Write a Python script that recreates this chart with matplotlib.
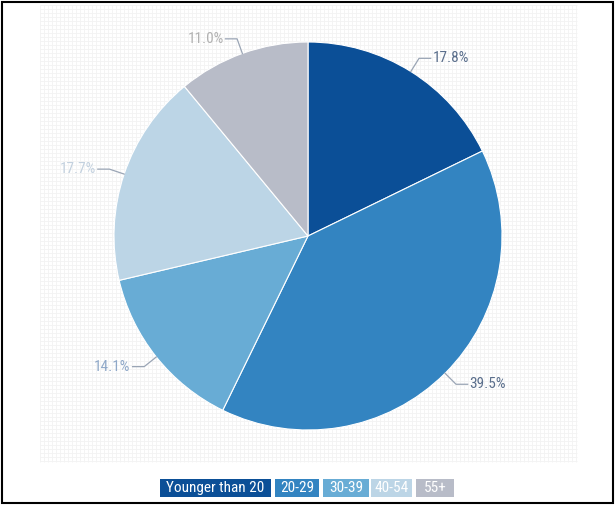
import numpy as np
import matplotlib
matplotlib.use("Agg")
from matplotlib import pyplot as plt
from matplotlib import font_manager
from matplotlib.patches import Rectangle

# age groups and share of respondents (%)
groups = ["Younger than 20", "20-29", "30-39", "40-54", "55+"]
shares = [17.8, 39.5, 14.1, 17.7, 11.0]
slice_colors = ["#0b4f97", "#3384c1", "#68acd5", "#bcd5e6", "#b8bcc8"]
label_colors = ["#5b6f8c", "#5b6f8c", "#8fa8c8", "#c3d1df", "#b2b2b2"]

W, H = 615, 505
cx, cy, R = 308, 236, 194  # pie centre / radius in pixels

def dx(p):
    return (p - cx) / R

def dy(p):
    return (cy - p) / R

names = {f.name for f in font_manager.fontManager.ttflist}
narrow = [n for n in ["Liberation Sans Narrow", "Roboto Condensed", "Open Sans Condensed"] if n in names]
lab_font = narrow + ["DejaVu Sans"]

fig = plt.figure(figsize=(W / 100, H / 100), dpi=100)
ax = fig.add_axes([0, 0, 1, 1])

# faint grid background
gx = np.arange(40, 578, 4)
gy = np.arange(5, 463, 4)
ax.vlines(dx(gx), dy(462), dy(5), color="#f3f3f3", lw=0.6, zorder=0)
ax.hlines(dy(gy), dx(40), dx(577), color="#f3f3f3", lw=0.6, zorder=0)

wedges, _ = ax.pie(shares, colors=slice_colors, startangle=90, counterclock=False,
                   radius=1.0, center=(0, 0), frame=True,
                   wedgeprops=dict(edgecolor="white", linewidth=0.8))
ax.set_xlim(dx(0), dx(W))
ax.set_ylim(dy(H), dy(0))
ax.set_aspect("auto")
ax.axis("off")

for w, v, c in zip(wedges, shares, label_colors):
    ang = np.deg2rad((w.theta1 + w.theta2) / 2)
    x0, y0 = np.cos(ang), np.sin(ang)
    x1, y1 = 1.08 * x0, 1.08 * y0
    side = 1 if x0 > 0 else -1
    x2 = x1 + side * 0.06
    ax.plot([x0, x1, x2], [y0, y1, y1], color="#9aa5b5", lw=0.9, zorder=3)
    ax.text(x2 + side * 0.01, y1, f"{v}%", color=c, fontsize=11,
            family=lab_font, fontstretch="condensed",
            ha="left" if side > 0 else "right", va="center")

# legend boxes along the bottom
box_x = [160, 275, 323, 371, 416]
box_w = [111, 44, 46, 41, 38]
for name, col, bx, bw in zip(groups, slice_colors, box_x, box_w):
    ax.add_patch(Rectangle((dx(bx), dy(497)), bw / R, 18 / R, facecolor=col,
                           edgecolor="none", zorder=4))
    ax.text(dx(bx + bw / 2), dy(488), name, color="white", fontsize=11 if narrow else 8.5,
            family=lab_font, fontstretch="condensed",
            ha="center", va="center", zorder=5)

fig.patches.append(Rectangle((0.004, 0.004), 0.992, 0.992, transform=fig.transFigure,
                             fill=False, edgecolor="black", lw=1.5))

plt.savefig("out.png", dpi=100)
